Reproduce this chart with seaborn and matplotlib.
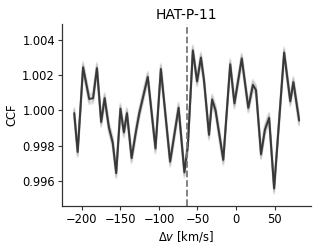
import numpy as np
import pandas as pd
import matplotlib
matplotlib.use("Agg")
import matplotlib.pyplot as plt
import seaborn as sns

# CCF vertices
dv = [-210, -205.5, -198.5, -190.5, -185.5, -180.5, -175, -170.5, -165, -160,
      -155.5, -150, -145.5, -141.5, -135.5, -129.5, -125.5, -114.5, -104.5, -97.5,
      -85.5, -74.5, -67, -62.5, -56, -50.5, -45.5, -41.5, -35, -31, -26.5,
      -16.5, -7.5, -2, 7.5, 16, 22, 26, 32.5, 37.5, 43, 49.5, 62.5, 70.5, 74.5, 82]
ccf = [0.99985, 0.99765, 1.00245, 1.00065, 1.00070, 1.00240, 0.99935, 1.00070, 0.99905, 0.99818,
       0.99645, 1.00010, 0.99876, 0.99985, 0.99730, 0.99890, 0.99985, 1.00190, 0.99785, 1.00235,
       0.99710, 1.00015, 0.99650, 0.99800, 1.00340, 1.00165, 1.00300, 1.00170, 0.99862, 1.00062, 1.00000,
       0.99720, 1.00262, 1.00040, 1.00295, 1.00015, 1.00145, 1.00115, 0.99752, 0.99890, 0.99958,
       0.99558, 1.00328, 1.00052, 1.00161, 0.99943]
systemic_v = -63.0
title = "HAT-P-11"

sns.set_theme(style="ticks")
plt.rcParams["font.family"] = ["DejaVu Sans"]
for k in ["text.color", "axes.labelcolor", "xtick.color", "ytick.color"]:
    plt.rcParams[k] = "black"

fig = plt.figure(figsize=(3.19, 2.48), dpi=100)
ax = fig.add_axes([0.194, 0.169, 0.781, 0.734])

df = pd.DataFrame({"dv": dv, "ccf": ccf})
# fuzzy band of sample-like offsets
offsets = np.linspace(-0.00032, 0.00032, 21)
for off in offsets:
    sns.lineplot(x=df["dv"], y=df["ccf"] + off, ax=ax, color="#666666",
                 alpha=0.06, lw=1.4, estimator=None, sort=False)
sns.lineplot(data=df, x="dv", y="ccf", ax=ax, color="#383838", lw=1.4,
             estimator=None, sort=False)
ax.axvline(systemic_v, color="#777777", ls="--", lw=1.3)

ax.set_xlim(-226, 97.4)
ax.set_ylim(0.99458, 1.0049)
ax.set_xticks([-200, -150, -100, -50, 0, 50])
ax.set_yticks([0.996, 0.998, 1.000, 1.002, 1.004])
ax.set_yticklabels(["0.996", "0.998", "1.000", "1.002", "1.004"])
ax.tick_params(labelsize=8.3, length=3, width=0.8, pad=2, color="#333333")
ax.set_xlabel(r"$\Delta v$ [km/s]", fontsize=8.3, labelpad=2)
ax.set_ylabel("CCF", fontsize=8.3, labelpad=3)
ax.set_title(title, fontsize=10, pad=4)
for s in ["left", "bottom"]:
    ax.spines[s].set_color("#333333")
    ax.spines[s].set_linewidth(0.9)
sns.despine(ax=ax)

fig.savefig("out.png", dpi=100)
